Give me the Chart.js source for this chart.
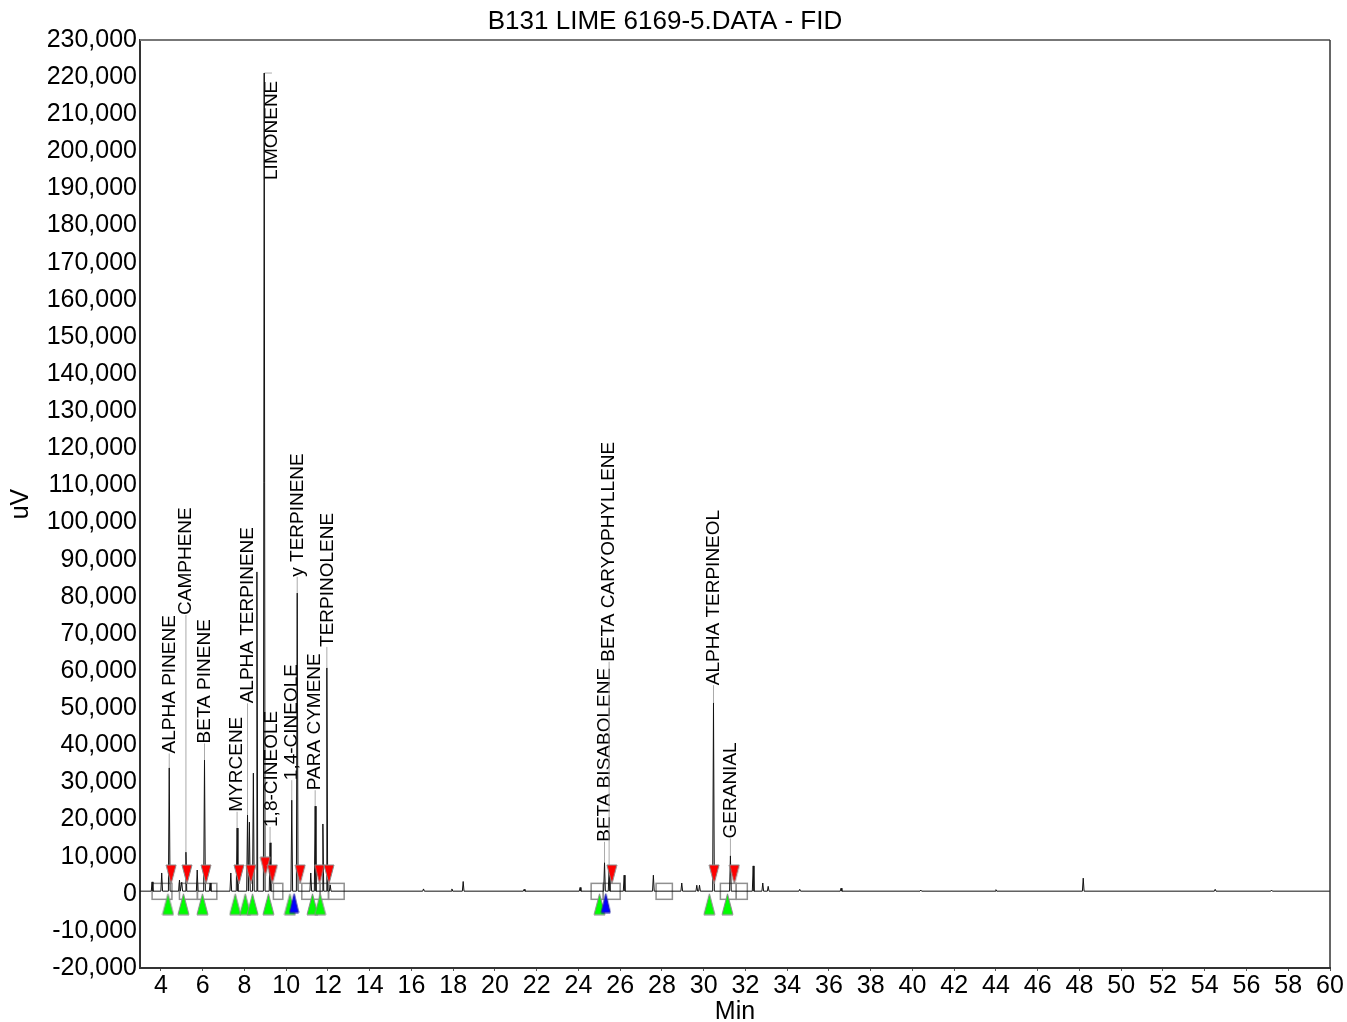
<!DOCTYPE html>
<html>
<head>
<meta charset="utf-8">
<script src="https://cdn.jsdelivr.net/npm/chart.js@4.4.1/dist/chart.umd.min.js"></script>
<style>
  html, body { margin: 0; padding: 0; background: #fff; }
  #chromChart { display: block; }
</style>
</head>
<body>
<canvas id="chromChart" width="1347" height="1022"></canvas>
<script>
// peak apexes (retention time in min, signal in uV)
const peakTimes = [3.58, 4.04, 4.40, 4.89, 5.00, 5.20, 5.74, 6.09, 6.36, 7.35, 7.65, 8.15, 8.24, 8.43, 8.60, 8.95, 9.23,
  10.27, 10.53, 11.18, 11.39, 11.76, 11.95, 12.11, 16.58, 17.94, 18.48, 21.40, 24.08, 25.25, 25.47, 26.19, 27.59,
  28.95, 29.67, 29.80, 30.47, 31.28, 32.37, 32.83, 33.09, 34.60, 36.58, 40.40, 44.00, 48.18, 54.50, 57.20];
const peakHeights = [3200, 5600, 33900, 3700, 3100, 11200, 6400, 36000, 2900, 5600, 17700, 21200, 19300, 32500, 86700, 221100, 13700,
  25200, 81000, 5600, 23600, 18800, 60800, 2400, 1300, 1300, 3300, 1200, 1700, 8350, 7200, 5000, 5000,
  2900, 2300, 2300, 51400, 10200, 7500, 2900, 2000, 1200, 1500, 1000, 1100, 4200, 1200, 1000];
const baselineLevel = 700;

const xTicks = [4, 6, 8, 10, 12, 14, 16, 18, 20, 22, 24, 26, 28, 30, 32, 34, 36, 38, 40, 42, 44, 46, 48, 50, 52, 54, 56, 58, 60];
const yTicks = [-20000, -10000, 0, 10000, 20000, 30000, 40000, 50000, 60000, 70000, 80000, 90000, 100000, 110000, 120000,
  130000, 140000, 150000, 160000, 170000, 180000, 190000, 200000, 210000, 220000, 230000];

// identified compounds: peak apex, where the name is written, where the name starts
const compoundNames = ['ALPHA PINENE', 'CAMPHENE', 'BETA PINENE', 'MYRCENE', 'ALPHA TERPINENE', 'LIMONENE', '1,8-CINEOLE',
  '1,4-CINEOLE', 'y TERPINENE', 'PARA CYMENE', 'TERPINOLENE', 'BETA BISABOLENE', 'BETA CARYOPHYLLENE', 'ALPHA TERPINEOL', 'GERANIAL'];
const compoundTimes = [4.40, 5.20, 6.09, 7.65, 8.15, 8.95, 9.23, 10.27, 10.53, 11.39, 11.95, 25.25, 25.47, 30.47, 31.28];
const compoundHeights = [33900, 11200, 36000, 17700, 21200, 221100, 13700, 25200, 81000, 23600, 60800, 8350, 7200, 51400, 10200];
const labelTimes = [4.41, 5.20, 6.09, 7.65, 8.16, 9.32, 9.30, 10.27, 10.54, 11.39, 11.98, 25.25, 25.47, 30.50, 31.31];
const labelStarts = [37800, 75100, 40500, 22100, 51300, 192300, 18000, 30600, 85400, 27900, 66500, 14000, 62500, 56200, 14900];

// integration markers
const peakEndTimes = [4.49, 5.25, 6.16, 7.74, 8.31, 9.00, 9.34, 10.67, 11.60, 12.05, 25.60, 30.50, 31.47];
const peakEndLevels = [5200, 5200, 5200, 5200, 5200, 7300, 5200, 5200, 5200, 5200, 5200, 5200, 5200];
const peakStartTimes = [4.34, 5.08, 5.99, 7.56, 8.04, 8.39, 9.15, 10.18, 11.26, 11.63, 25.01, 30.27, 31.14];
const splitTimes = [10.38, 25.31];
const windowStarts = [3.58, 4.89, 5.75, 9.39, 10.75, 11.63, 12.03, 24.61, 25.19, 27.72, 30.80, 31.56];
const windowEnds = [4.53, 5.75, 6.68, 9.84, 11.63, 12.03, 12.78, 25.19, 26.00, 28.50, 31.56, 32.09];

const FONT = "'Liberation Sans', Arial, sans-serif";

const tracePoints = [{ x: 3, y: baselineLevel }];
peakTimes.forEach((t, i) => {
  tracePoints.push({ x: t - 0.04, y: baselineLevel });
  tracePoints.push({ x: t, y: peakHeights[i] });
  tracePoints.push({ x: t + 0.04, y: baselineLevel });
});
tracePoints.push({ x: 60, y: baselineLevel });

function makeTriangle(fill, stroke, w, h, pointingDown) {
  const c = document.createElement('canvas');
  c.width = w + 2;
  c.height = h + 2;
  const g = c.getContext('2d');
  g.beginPath();
  if (pointingDown) {
    g.moveTo(1, 1); g.lineTo(w + 1, 1); g.lineTo(w / 2 + 1, h + 1);
  } else {
    g.moveTo(w / 2 + 1, 1); g.lineTo(w + 1, h + 1); g.lineTo(1, h + 1);
  }
  g.closePath();
  g.fillStyle = fill;
  g.fill();
  g.strokeStyle = stroke;
  g.lineWidth = 1;
  g.stroke();
  return c;
}

const peakMarks = {
  id: 'peakMarks',
  beforeDatasetsDraw(chart) {
    const { ctx, scales: { x, y } } = chart;
    ctx.save();
    ctx.strokeStyle = '#909090';
    ctx.lineWidth = 1.5;
    windowStarts.forEach((s, i) => {
      const l = x.getPixelForValue(s);
      const r = x.getPixelForValue(windowEnds[i]);
      const t = y.getPixelForValue(2800);
      const b = y.getPixelForValue(-1500);
      ctx.strokeRect(l, t, r - l, b - t);
    });

    ctx.strokeStyle = '#ababab';
    ctx.lineWidth = 1;
    ctx.font = '19px ' + FONT;
    ctx.fillStyle = '#000';
    ctx.textAlign = 'left';
    ctx.textBaseline = 'middle';
    compoundNames.forEach((name, i) => {
      const px = x.getPixelForValue(compoundTimes[i]);
      const lx = x.getPixelForValue(labelTimes[i]);
      const apex = y.getPixelForValue(compoundHeights[i]);
      const start = y.getPixelForValue(labelStarts[i]);
      ctx.beginPath();
      ctx.moveTo(lx, apex);
      ctx.lineTo(px, apex);
      ctx.lineTo(px, start);
      ctx.stroke();
      ctx.save();
      ctx.translate(lx, start);
      ctx.rotate(-Math.PI / 2);
      ctx.fillText(name, 0, 0);
      ctx.restore();
    });
    ctx.restore();
  },
  afterDraw(chart) {
    const { ctx, chartArea: a } = chart;
    ctx.save();
    ctx.strokeStyle = '#777';
    ctx.lineWidth = 2;
    ctx.beginPath();
    ctx.moveTo(a.left, a.top);
    ctx.lineTo(a.right, a.top);
    ctx.stroke();
    ctx.strokeStyle = '#333';
    ctx.lineWidth = 1.5;
    ctx.beginPath();
    ctx.moveTo(a.right, a.top);
    ctx.lineTo(a.right, a.bottom);
    ctx.stroke();
    ctx.restore();
  }
};

Chart.defaults.font.family = FONT;
Chart.defaults.color = '#000';

new Chart(document.getElementById('chromChart'), {
  type: 'scatter',
  data: {
    datasets: [
      {
        label: 'Peak end',
        data: peakEndTimes.map((t, i) => ({ x: t, y: peakEndLevels[i] })),
        pointStyle: makeTriangle('#ff0000', '#8a8a8a', 10, 19, true),
        order: 1
      },
      {
        label: 'Split',
        data: splitTimes.map(t => ({ x: t, y: -2500 })),
        pointStyle: makeTriangle('#0000ff', '#2020a0', 9, 19, false),
        order: 2
      },
      {
        label: 'Peak start',
        data: peakStartTimes.map(t => ({ x: t, y: -2800 })),
        pointStyle: makeTriangle('#00ff00', '#8a8a8a', 11, 21, false),
        order: 3
      },
      {
        label: 'FID',
        data: tracePoints,
        showLine: true,
        borderColor: '#111',
        borderWidth: 1,
        pointRadius: 0,
        tension: 0,
        order: 4
      }
    ]
  },
  options: {
    responsive: false,
    animation: false,
    events: [],
    layout: { padding: { left: 0, right: 17, top: 0, bottom: 0 } },
    plugins: {
      legend: { display: false },
      tooltip: { enabled: false },
      title: {
        display: true,
        text: 'B131 LIME 6169-5.DATA - FID',
        color: '#000',
        font: { size: 26, weight: 'normal' },
        padding: { top: 6.5, bottom: 2.3 }
      }
    },
    scales: {
      x: {
        type: 'linear',
        min: 3,
        max: 60,
        afterBuildTicks: (scale) => { scale.ticks = xTicks.map(v => ({ value: v })); },
        afterFit: (scale) => { scale.height = 54; },
        ticks: { font: { size: 25 }, padding: 0, maxRotation: 0, autoSkip: false },
        grid: { display: true, drawOnChartArea: false, drawTicks: true, tickLength: 3, color: '#555' },
        border: { color: '#333', width: 2 },
        title: { display: true, text: 'Min', font: { size: 25, lineHeight: 1 }, padding: { top: 0, bottom: -3 } }
      },
      y: {
        type: 'linear',
        min: -20000,
        max: 230000,
        afterBuildTicks: (scale) => { scale.ticks = yTicks.map(v => ({ value: v })); },
        afterFit: (scale) => { scale.width = 140; },
        ticks: {
          font: { size: 25 },
          padding: 3,
          autoSkip: false,
          callback: (v) => v.toLocaleString('en-US')
        },
        grid: { display: false, drawTicks: false },
        border: { color: '#333', width: 2 },
        title: { display: true, text: 'uV', font: { size: 25, lineHeight: 1 }, padding: { top: 9, bottom: 0 } }
      }
    }
  },
  plugins: [peakMarks]
});
</script>
</body>
</html>
